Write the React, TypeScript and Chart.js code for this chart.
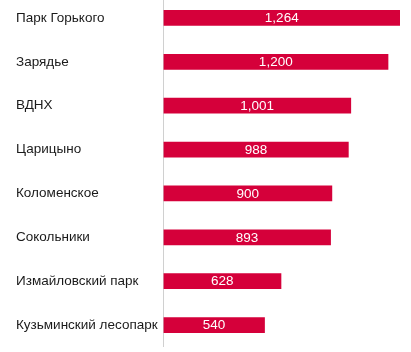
import React, { useEffect, useRef } from "react";
import { Chart, registerables } from "chart.js";

Chart.register(...registerables);

const categories = [
  "Парк Горького",
  "Зарядье",
  "ВДНХ",
  "Царицыно",
  "Коломенское",
  "Сокольники",
  "Измайловский парк",
  "Кузьминский лесопарк",
];
const values = [1264, 1200, 1001, 988, 900, 893, 628, 540];

const FONT = "'Liberation Sans', Arial, sans-serif";

const valueLabels = {
  id: "valueLabels",
  afterDatasetsDraw(chart: any) {
    const ctx = chart.ctx;
    const meta = chart.getDatasetMeta(0);
    ctx.save();
    ctx.fillStyle = "#ffffff";
    ctx.font = `13.5px ${FONT}`;
    ctx.textAlign = "center";
    ctx.textBaseline = "middle";
    meta.data.forEach((bar: any, i: number) => {
      const v = values[i];
      const x = (bar.x + bar.base) / 2;
      ctx.fillText(v.toLocaleString("en-US"), x, bar.y + 0.5);
    });
    ctx.restore();
  },
};

export default function App() {
  const ref = useRef<HTMLCanvasElement | null>(null);
  useEffect(() => {
    if (!ref.current) return;
    const chart = new Chart(ref.current, {
      type: "bar",
      data: {
        labels: categories,
        datasets: [
          {
            data: values,
            backgroundColor: "#d5003a",
            barThickness: 15,
          },
        ],
      },
      options: {
        indexAxis: "y",
        animation: false,
        responsive: false,
        layout: { padding: { left: 16, right: 11, top: 0, bottom: 0 } },
        plugins: { legend: { display: false }, tooltip: { enabled: false } },
        scales: {
          x: { display: false, min: 0, max: 1264 },
          y: {
            grid: { display: false, drawTicks: false },
            border: { display: true, color: "#d0d0d0", width: 1 },
            ticks: {
              crossAlign: "far",
              color: "#1a1a1a",
              font: { family: FONT, size: 13.5 },
              padding: 0,
            },
            afterFit(scale: any) {
              scale.width = 147.5;
              scale.paddingTop = 0;
              scale.paddingBottom = 0;
            },
          },
        },
      },
      plugins: [valueLabels],
    });
    return () => chart.destroy();
  }, []);
  return (
    <div
      style={{
        position: "fixed",
        left: 0,
        top: -4,
        width: 411,
        height: 351,
        background: "#fff",
      }}
    >
      <canvas ref={ref} width={411} height={351} style={{ display: "block" }} />
    </div>
  );
}
